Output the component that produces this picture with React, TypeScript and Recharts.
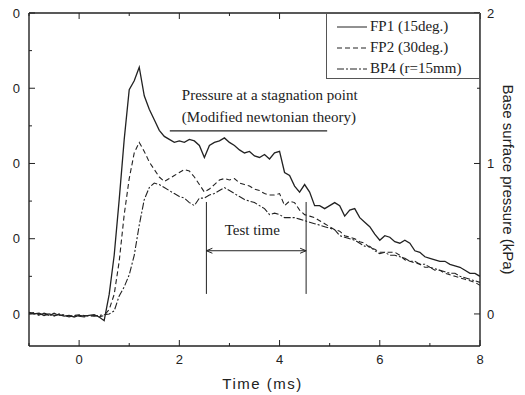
import React from "react";
import {
  LineChart,
  Line,
  XAxis,
  YAxis,
  ReferenceLine,
  Legend,
} from "recharts";

// sample times, ms (every 0.1 ms from -1 to 8)
const times = Array.from({ length: 91 }, (_, i) => Math.round(i - 10) / 10);

// base surface pressure, kPa
const fp1 = [
  0.01, 0.0, 0.005, -0.01, 0.0, -0.01, -0.005, -0.015, -0.01, -0.02,
  -0.01, -0.015, -0.01, -0.005, -0.02, -0.045, 0.13, 0.39, 0.76, 1.16,
  1.49, 1.55, 1.64, 1.45, 1.36, 1.29, 1.22, 1.18, 1.16, 1.14,
  1.15, 1.14, 1.16, 1.15, 1.12, 1.04, 1.12, 1.14, 1.15, 1.17,
  1.14, 1.12, 1.09, 1.07, 1.08, 1.05, 1.04, 1.06, 1.03, 1.07,
  1.08, 0.94, 0.92, 0.85, 0.81, 0.86, 0.81, 0.72, 0.72, 0.7,
  0.72, 0.74, 0.72, 0.65, 0.69, 0.7, 0.64, 0.61, 0.58, 0.53,
  0.49, 0.52, 0.51, 0.48, 0.47, 0.49, 0.47, 0.42, 0.41, 0.38,
  0.37, 0.36, 0.35, 0.35, 0.33, 0.32, 0.31, 0.29, 0.27, 0.27,
  0.25,
];

const fp2 = [
  0.005, 0.01, -0.005, 0.0, -0.01, 0.005, -0.01, -0.005, -0.015, -0.01,
  -0.005, -0.01, -0.015, -0.01, -0.02, -0.01, 0.03, 0.13, 0.35, 0.66,
  0.9, 1.07, 1.14, 1.08, 1.01, 0.96, 0.91, 0.88, 0.9, 0.92,
  0.94, 0.96, 0.95, 0.91, 0.86, 0.81, 0.83, 0.86, 0.89, 0.9,
  0.89, 0.9, 0.87, 0.86, 0.85, 0.83, 0.82, 0.8, 0.79, 0.79,
  0.8, 0.72, 0.75, 0.74, 0.69, 0.66, 0.65, 0.64, 0.62, 0.6,
  0.58, 0.56, 0.55, 0.52, 0.51, 0.5, 0.48, 0.47, 0.44, 0.43,
  0.41, 0.41, 0.41, 0.41, 0.39, 0.36, 0.35, 0.34, 0.33, 0.31,
  0.31, 0.29, 0.29, 0.27, 0.26, 0.25, 0.24, 0.23, 0.22, 0.21,
  0.19,
];

const bp4 = [
  0.0, 0.005, -0.01, 0.005, -0.005, -0.015, 0.0, -0.01, -0.02, -0.01,
  -0.015, -0.02, -0.01, -0.015, -0.01, -0.005, 0.0, 0.02, 0.12, 0.18,
  0.26, 0.39, 0.59, 0.76, 0.84, 0.87, 0.86, 0.84, 0.82, 0.8,
  0.78, 0.77, 0.74, 0.72, 0.77, 0.77, 0.79, 0.8, 0.82, 0.84,
  0.82, 0.8, 0.78, 0.76, 0.75, 0.74, 0.72, 0.7, 0.66, 0.67,
  0.66, 0.64, 0.64, 0.64, 0.63, 0.62, 0.61, 0.6, 0.59, 0.58,
  0.57, 0.56, 0.52, 0.51, 0.5, 0.49, 0.47, 0.45, 0.45, 0.42,
  0.4, 0.41, 0.39, 0.39, 0.38, 0.37, 0.35, 0.35, 0.33, 0.33,
  0.31, 0.3, 0.29, 0.28, 0.27, 0.27, 0.25, 0.24, 0.23, 0.22,
  0.21,
];

const seriesNames = ["FP1 (15deg.)", "FP2 (30deg.)", "BP4 (r=15mm)"];

const xTicks = [-1, 0, 1, 2, 3, 4, 5, 6, 7, 8];
const leftTicks = [0, 0.25, 0.5, 0.75, 1, 1.25, 1.5, 1.75, 2];
const rightTicks = [0, 0.5, 1, 1.5, 2];

// annotations (time in ms, pressure in kPa)
const stagnationLevel = 1.216;
const stagnationSpan = [1.81, 4.95];
const testTime = [2.54, 4.53];
const testBar = [0.133, 0.744];
const testArrowLevel = 0.42;

const data = times.map((t, i) => ({ t, fp1: fp1[i], fp2: fp2[i], bp4: bp4[i] }));

const INK = "#222";
const SANS = "'Liberation Sans', Arial, sans-serif";
const SERIF = "'Liberation Serif', 'Times New Roman', serif";
const dashes = [undefined, "5 3", "7 2 2 2"];

const isWhole = (v: number, step: number) =>
  Math.abs(v / step - Math.round(v / step)) < 1e-6;

function BottomTick(props: any) {
  const { x, y, payload } = props;
  const v = payload.value;
  const axisY = y - 9;
  const major = isWhole(v, 2);
  return (
    <g>
      <line x1={x} x2={x} y1={axisY} y2={axisY - (major ? 6 : 3)} stroke={INK} />
      {major && (
        <text x={x} y={y} dy="0.71em" textAnchor="middle" fontSize={13} fontFamily={SANS} fill={INK}>
          {v}
        </text>
      )}
    </g>
  );
}

function TopTick(props: any) {
  const { x, y, payload } = props;
  const major = isWhole(payload.value, 2);
  return <line x1={x} x2={x} y1={y} y2={y + (major ? 6 : 3)} stroke={INK} />;
}

function LeftTick(props: any) {
  const { x, y, payload } = props;
  const v = payload.value;
  const axisX = x + 9;
  const major = isWhole(v, 0.5);
  return (
    <g>
      <line x1={axisX} x2={axisX + (major ? 6 : 3)} y1={y} y2={y} stroke={INK} />
      {major && (
        <text x={x} y={y} dy="0.36em" textAnchor="end" fontSize={13} fontFamily={SANS} fill={INK}>
          0
        </text>
      )}
    </g>
  );
}

function RightTick(props: any) {
  const { x, y, payload } = props;
  const v = payload.value;
  const axisX = x - 7;
  const major = isWhole(v, 1);
  return (
    <g>
      <line x1={axisX} x2={axisX - (major ? 6 : 3)} y1={y} y2={y} stroke={INK} />
      {major && (
        <text x={x} y={y} dy="0.36em" textAnchor="start" fontSize={13} fontFamily={SANS} fill={INK}>
          {v}
        </text>
      )}
    </g>
  );
}

function LegendBox() {
  return (
    <div
      style={{
        border: "1px solid #555",
        background: "#fff",
        boxSizing: "border-box",
        width: 154,
        height: 66,
        paddingTop: 2,
        fontFamily: SERIF,
        fontSize: 15,
        color: INK,
      }}
    >
      {seriesNames.map((name, i) => (
        <div key={name} style={{ display: "flex", alignItems: "center", height: 21, paddingLeft: 10 }}>
          <svg width={30} height={6} style={{ marginRight: 3 }}>
            <line x1={0} x2={30} y1={3} y2={3} stroke={INK} strokeWidth={1} strokeDasharray={dashes[i]} />
          </svg>
          <span>{name}</span>
        </div>
      ))}
    </div>
  );
}

function StagnationLabel(props: any) {
  const { x, y } = props.viewBox;
  return (
    <g fontFamily={SERIF} fontSize={15} fill={INK}>
      <text x={x + 12} y={y - 31}>Pressure at a stagnation point</text>
      <text x={x + 12} y={y - 9}>(Modified newtonian theory)</text>
    </g>
  );
}

function ArrowShape(props: any) {
  const { x1, y1, x2, y2 } = props;
  return (
    <g stroke={INK} strokeWidth={1} fill="none">
      <line x1={x1} y1={y1} x2={x2} y2={y2} />
      <path d={`M${x1 + 6},${y1 - 2.5} L${x1},${y1} L${x1 + 6},${y1 + 2.5}`} />
      <path d={`M${x2 - 6},${y2 - 2.5} L${x2},${y2} L${x2 - 6},${y2 + 2.5}`} />
    </g>
  );
}

function TestTimeLabel(props: any) {
  const { x, y, width } = props.viewBox;
  return (
    <text x={x + width / 2 - 4} y={y - 16} textAnchor="middle" fontFamily={SERIF} fontSize={15} fill={INK}>
      Test time
    </text>
  );
}

function TimeLabel(props: any) {
  const { x, y, width } = props.viewBox;
  return (
    <text x={x + width / 2 + 8} y={y + 43} textAnchor="middle" fontFamily={SANS} fontSize={15} letterSpacing={1.5} fill={INK}>
      Time (ms)
    </text>
  );
}

function PressureLabel(props: any) {
  const { x, y, height } = props.viewBox;
  const cx = x + 28;
  const cy = y + height / 2;
  return (
    <text x={cx} y={cy} transform={`rotate(90 ${cx} ${cy})`} textAnchor="middle" dy="0.35em" fontFamily={SANS} fontSize={15} fill={INK}>
      Base surface pressure (kPa)
    </text>
  );
}

export default function App() {
  const frame = { stroke: INK, strokeWidth: 1.4 };
  return (
    <div style={{ position: "absolute", left: 0, top: 0, width: 525, height: 395, background: "#fff" }}>
      <LineChart width={525} height={395} data={data} margin={{ top: 12, right: 15, bottom: 19, left: 9 }}>
        <XAxis
          xAxisId="b"
          dataKey="t"
          type="number"
          domain={[-1, 8]}
          ticks={xTicks}
          interval={0}
          height={30}
          tickSize={0}
          tickMargin={9}
          tickLine={false}
          axisLine={frame}
          tick={<BottomTick />}
          label={{ content: TimeLabel }}
          allowDataOverflow
        />
        <XAxis
          xAxisId="t"
          orientation="top"
          dataKey="t"
          type="number"
          domain={[-1, 8]}
          ticks={xTicks}
          interval={0}
          height={1}
          tickSize={0}
          tickMargin={0}
          tickLine={false}
          axisLine={frame}
          tick={<TopTick />}
          allowDataOverflow
        />
        <YAxis
          yAxisId="l"
          type="number"
          domain={[-0.213, 2]}
          ticks={leftTicks}
          interval={0}
          width={20}
          tickSize={0}
          tickMargin={9}
          tickLine={false}
          axisLine={frame}
          tick={<LeftTick />}
          allowDataOverflow
        />
        <YAxis
          yAxisId="r"
          orientation="right"
          type="number"
          domain={[-0.213, 2]}
          ticks={rightTicks}
          interval={0}
          width={30}
          tickSize={0}
          tickMargin={7}
          tickLine={false}
          axisLine={frame}
          tick={<RightTick />}
          label={{ content: PressureLabel }}
          allowDataOverflow
        />
        <ReferenceLine
          xAxisId="b"
          yAxisId="r"
          segment={[
            { x: stagnationSpan[0], y: stagnationLevel },
            { x: stagnationSpan[1], y: stagnationLevel },
          ]}
          stroke={INK}
          strokeWidth={1.2}
          label={{ content: StagnationLabel }}
        />
        {testTime.map((tt) => (
          <ReferenceLine
            key={tt}
            xAxisId="b"
            yAxisId="r"
            segment={[
              { x: tt, y: testBar[0] },
              { x: tt, y: testBar[1] },
            ]}
            stroke={INK}
            strokeWidth={1}
          />
        ))}
        <ReferenceLine
          xAxisId="b"
          yAxisId="r"
          segment={[
            { x: testTime[0], y: testArrowLevel },
            { x: testTime[1], y: testArrowLevel },
          ]}
          shape={ArrowShape}
          label={{ content: TestTimeLabel }}
        />
        {(["fp1", "fp2", "bp4"] as const).map((key, i) => (
          <Line
            key={key}
            xAxisId="b"
            yAxisId="r"
            dataKey={key}
            name={seriesNames[i]}
            type="linear"
            stroke={INK}
            strokeWidth={i === 0 ? 1.3 : 1.1}
            strokeDasharray={dashes[i]}
            dot={false}
            activeDot={false}
            isAnimationActive={false}
          />
        ))}
        <Legend
          layout="horizontal"
          verticalAlign="middle"
          align="center"
          width={154}
          height={66}
          wrapperStyle={{ top: 13, left: 326, width: 154, height: 66 }}
          content={<LegendBox />}
        />
      </LineChart>
    </div>
  );
}
